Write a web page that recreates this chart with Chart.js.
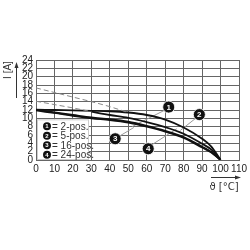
<!DOCTYPE html>
<html>
<head>
<meta charset="utf-8">
<script src="https://cdn.jsdelivr.net/npm/chart.js@4"></script>
<style>
  html, body { margin: 0; padding: 0; background: #fff; }
  #wrap { width: 250px; height: 250px; position: relative; }
</style>
</head>
<body>
<div id="wrap"><canvas id="chart" width="250" height="250"></canvas></div>
<script>
// derating curves
const temps = [0, 10, 20, 30, 40, 50, 60, 70, 80, 90, 95, 100];
const pos2 = [12.1, 12.0, 11.9, 11.8, 11.7, 11.4, 10.8, 9.7, 7.8, 5.1, 3.2, 0];
const pos16 = [12.0, 11.4, 10.8, 10.2, 9.8, 9.2, 8.2, 7.0, 5.5, 3.2, 1.9, 0];
const pos24 = [11.9, 11.3, 10.6, 10.0, 9.6, 9.0, 8.0, 6.8, 5.3, 3.0, 1.8, 0];
const pos5Temps = [30, 40, 50, 60, 70, 80, 90, 95, 100];
const pos5 = [11.6, 10.8, 10.1, 9.1, 7.9, 6.3, 3.9, 2.5, 0];
const dashATemps = [0, 10, 20, 30, 40, 50];
const dashA = [17.3, 16.2, 15.1, 14.0, 12.8, 11.4];
const dashBTemps = [0, 10, 20, 30];
const dashB = [14.1, 13.3, 12.5, 11.6];

const xTicks = [0, 10, 20, 30, 40, 50, 60, 70, 80, 90, 100, 110];
const yTicks = [0, 2, 4, 6, 8, 10, 12, 14, 16, 18, 20, 22, 24];

const calloutLabels = ['1', '2', '3', '4'];
const calloutX = [71.9, 88.5, 42.9, 60.8];
const calloutY = [12.7, 10.9, 5.1, 2.7];
const leaderFrom = [[69.5, 11.9], [86.2, 9.9], [45.5, 5.8], [62.9, 3.7]];
const leaderTo = [[52, 8.0], [78.2, 7.1], [53, 7.8], [76.3, 7.5]];

const legendItems = ['= 2-pos.', '= 5-pos.', '= 16-pos.', '= 24-pos.'];

const pts = (xs, ys) => xs.map((x, i) => ({ x, y: ys[i] }));

function curve(data, width, color, dash) {
  return {
    data, borderColor: color, borderWidth: width, borderDash: dash || [],
    pointRadius: 0, showLine: true, fill: false,
    cubicInterpolationMode: 'monotone'
  };
}

const datasets = [
  curve(pts(dashATemps, dashA), 1, '#888', [5, 3]),
  curve(pts(dashBTemps, dashB), 1, '#888', [5, 3]),
  curve(pts(temps, pos2), 1.8, '#111'),
  curve(pts(pos5Temps, pos5), 1.8, '#111'),
  curve(pts(temps, pos16), 1.8, '#111'),
  curve(pts(temps, pos24), 1.8, '#111')
];
leaderFrom.forEach((f, i) => {
  datasets.push({
    data: [{ x: f[0], y: f[1] }, { x: leaderTo[i][0], y: leaderTo[i][1] }],
    borderColor: '#999', borderWidth: 1, pointRadius: 0, showLine: true
  });
});
datasets.push({
  data: pts(calloutX, calloutY), showLine: false,
  pointRadius: 6, pointBackgroundColor: '#111', pointBorderColor: '#fff', pointBorderWidth: 0.8
});
const calloutIndex = datasets.length - 1;

const extras = {
  id: 'extras',
  afterDatasetsDraw(chart) {
    const { ctx, chartArea, scales } = chart;
    ctx.save();
    // callout numbers
    const meta = chart.getDatasetMeta(calloutIndex);
    ctx.fillStyle = '#fff';
    ctx.font = 'bold 8px "Liberation Sans", Arial, sans-serif';
    ctx.textAlign = 'center';
    ctx.textBaseline = 'middle';
    meta.data.forEach((p, i) => ctx.fillText(calloutLabels[i], p.x, p.y + 0.5));

    // legend box
    const bx = chartArea.left + 1, by = scales.y.getPixelForValue(10) + 1;
    const bw = 51, bh = chartArea.bottom - by;
    ctx.fillStyle = '#fff';
    ctx.fillRect(bx, by, bw, bh);
    ctx.strokeStyle = '#ccc';
    ctx.lineWidth = 1;
    ctx.strokeRect(bx + 0.5, by + 0.5, bw, bh - 1);
    legendItems.forEach((t, i) => {
      const cy = by + 7 + i * 9.5;
      ctx.beginPath();
      ctx.fillStyle = '#111';
      ctx.arc(bx + 10, cy, 4, 0, Math.PI * 2);
      ctx.fill();
      ctx.fillStyle = '#fff';
      ctx.font = 'bold 6px "Liberation Sans", Arial, sans-serif';
      ctx.textAlign = 'center';
      ctx.fillText(String(i + 1), bx + 10, cy + 0.5);
      ctx.fillStyle = '#333';
      ctx.font = '10px "Liberation Sans", Arial, sans-serif';
      ctx.textAlign = 'left';
      ctx.fillText(t, bx + 15, cy + 0.5);
    });

    // y axis title with arrow
    ctx.fillStyle = '#333';
    ctx.strokeStyle = '#333';
    ctx.save();
    ctx.translate(8, 70);
    ctx.rotate(-Math.PI / 2);
    ctx.font = '10px "Liberation Sans", Arial, sans-serif';
    ctx.textAlign = 'center';
    ctx.textBaseline = 'middle';
    ctx.fillText('I [A]', 0, 0);
    ctx.restore();
    ctx.beginPath();
    ctx.moveTo(16.5, 98);
    ctx.lineTo(16.5, 66);
    ctx.stroke();
    ctx.beginPath();
    ctx.moveTo(16.5, 62);
    ctx.lineTo(14.5, 68);
    ctx.lineTo(18.5, 68);
    ctx.closePath();
    ctx.fill();

    // x axis title with arrow
    ctx.beginPath();
    ctx.moveTo(211, 177.5);
    ctx.lineTo(237, 177.5);
    ctx.stroke();
    ctx.beginPath();
    ctx.moveTo(241, 177.5);
    ctx.lineTo(235, 175.5);
    ctx.lineTo(235, 179.5);
    ctx.closePath();
    ctx.fill();
    ctx.font = '10px "DejaVu Sans", sans-serif';
    ctx.textAlign = 'center';
    ctx.textBaseline = 'middle';
    ctx.fillText('ϑ [°C]', 224, 187);
    ctx.restore();
  }
};

const xFont = { family: '"Liberation Sans", Arial, sans-serif', size: 10 };
const yFont = { family: '"Liberation Sans", Arial, sans-serif', size: 10, lineHeight: 0.9 };

new Chart(document.getElementById('chart'), {
  type: 'scatter',
  data: { datasets },
  options: {
    responsive: false,
    animation: false,
    layout: { padding: { left: 0, right: 9, top: 60, bottom: 70 } },
    plugins: { legend: { display: false }, tooltip: { enabled: false } },
    scales: {
      x: {
        type: 'linear', min: 0, max: 110,
        afterBuildTicks: (s) => { s.ticks = xTicks.map(v => ({ value: v })); },
        afterFit: (s) => { s.height = 20; },
        ticks: { color: '#222', font: xFont, padding: 3, maxRotation: 0, autoSkip: false },
        grid: { color: '#666', drawTicks: false, lineWidth: 1 },
        border: { color: '#666' }
      },
      y: {
        type: 'linear', min: 0, max: 24,
        afterBuildTicks: (s) => { s.ticks = yTicks.map(v => ({ value: v })); },
        afterFit: (s) => { s.width = 36; },
        ticks: { color: '#222', font: yFont, padding: 3, autoSkip: false },
        grid: { color: '#666', drawTicks: false, lineWidth: 1 },
        border: { color: '#666' }
      }
    }
  },
  plugins: [extras]
});
</script>
</body>
</html>
